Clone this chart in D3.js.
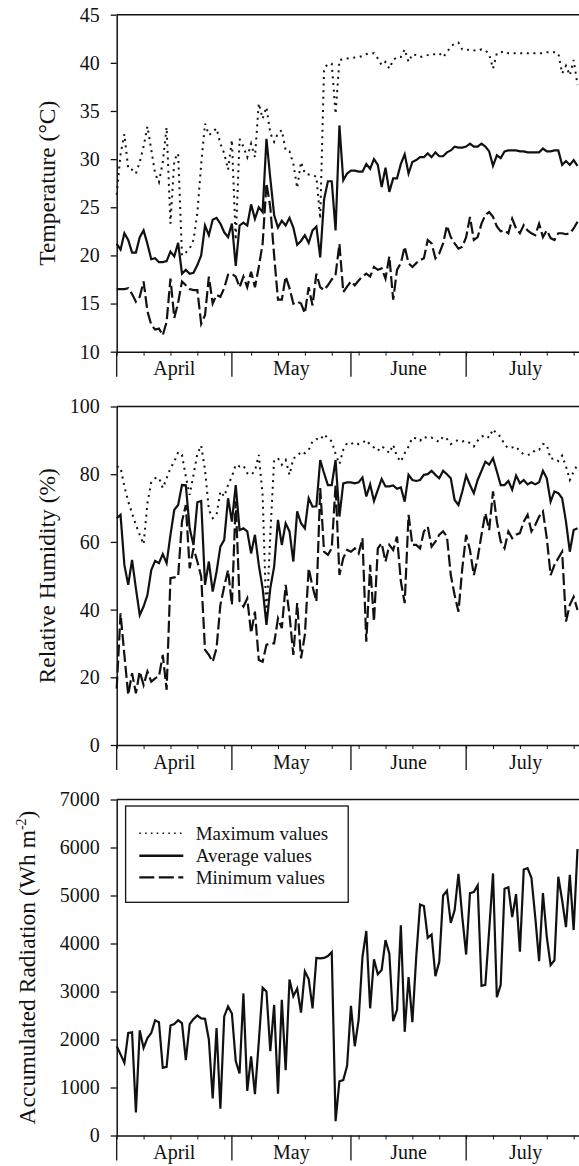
<!DOCTYPE html>
<html>
<head>
<meta charset="utf-8">
<script src="https://cdn.jsdelivr.net/npm/d3@7"></script>
<style>
  body { margin: 0; background: #fff; }
  svg { display: block; }
  text { font-family: "Liberation Serif", "Times New Roman", "DejaVu Serif", serif; fill: #111; }
</style>
</head>
<body>
<svg id="chart" width="579" height="1166"></svg>
<script>
// Daily series from 1 April to 30 July
const tempMax = [26.3,30.5,32.6,29.0,28.9,28.5,29.7,31.3,33.4,31.0,28.5,27.6,29.7,33.3,23.3,29.9,30.6,20.0,20.3,20.7,
  21.6,24.4,29.5,33.7,32.5,32.8,33.2,31.6,30.6,28.9,32.0,21.6,32.1,31.3,30.2,31.6,30.2,35.8,34.2,35.4,
  32.7,31.8,32.7,33.0,30.9,30.8,29.5,27.0,29.7,28.5,28.4,28.3,28.2,23.8,39.4,39.9,39.9,34.7,40.3,40.35,
  40.45,40.5,40.55,40.6,40.7,40.9,41.0,41.0,40.45,39.75,40.1,39.4,40.3,40.6,40.6,41.4,40.1,40.9,40.8,40.6,
  40.7,40.8,40.9,40.9,41.0,40.6,41.1,41.7,42.0,42.1,41.4,41.3,41.4,41.3,41.25,41.4,41.3,40.9,39.4,41.0,
  41.1,41.2,41.0,41.0,41.0,41.0,41.0,41.0,41.0,41.0,41.0,41.0,41.1,41.1,41.1,41.0,38.9,39.7,38.7,40.3,37.7];
const tempAvg = [21.2,20.6,22.3,21.6,20.3,20.3,21.9,22.6,21.2,19.6,19.7,19.3,19.3,19.4,20.4,19.9,21.3,18.1,18.5,18.1,
  18.2,19.0,20.0,23.1,22.1,23.7,23.9,23.3,22.4,21.9,23.3,18.9,23.1,23.4,23.1,25.3,23.8,25.0,24.5,32.1,
  28.0,24.2,22.9,23.6,23.1,23.9,22.9,21.1,21.5,22.1,21.3,22.6,23.0,19.8,25.8,27.7,27.7,22.6,33.5,27.8,
  28.5,28.8,28.8,28.7,28.7,29.5,29.0,30.0,29.4,27.1,29.1,26.6,28.0,28.0,29.5,30.5,28.5,29.7,29.9,30.2,
  30.2,30.6,30.2,30.7,30.3,30.3,30.7,30.9,31.3,31.2,31.2,31.3,31.6,31.3,31.3,31.6,31.3,30.8,29.3,30.4,
  30.1,30.8,30.9,30.9,30.9,30.8,30.8,30.7,30.7,30.7,30.7,31.1,30.8,30.8,30.9,30.9,29.4,29.8,29.4,29.9,29.3];
const tempMin = [16.5,16.5,16.5,16.6,16.0,15.2,15.7,17.3,14.2,12.8,12.3,12.4,11.7,13.1,17.6,13.5,15.1,17.3,16.9,16.5,
  16.4,16.4,12.9,13.8,17.8,15.0,15.9,15.7,16.6,18.0,18.1,17.8,16.7,17.8,16.7,18.3,16.7,18.8,21.2,27.5,
  25.0,20.0,15.4,15.4,17.8,16.6,15.0,15.2,15.0,14.0,16.7,14.8,18.1,16.7,16.4,16.9,17.5,18.0,21.2,16.2,
  16.75,17.3,16.9,17.4,17.8,18.1,17.8,18.8,18.5,18.65,17.6,19.9,15.4,18.5,19.2,20.9,19.2,18.8,19.2,19.5,
  19.7,21.6,21.25,19.7,20.2,21.25,23.1,21.9,21.25,20.7,20.9,21.9,24.0,21.6,21.9,23.3,24.2,24.5,24.0,23.0,
  22.5,22.6,22.3,23.8,22.8,22.3,23.15,22.6,22.3,22.1,23.3,21.9,22.6,21.8,21.6,22.3,22.3,22.2,22.3,22.8,23.5];

const rhMax = [82.3,82.0,76.4,71.9,68.5,65.0,62.1,59.3,71.4,77.6,78.8,79.0,75.9,78.8,81.8,83.7,86.5,85.7,79.3,73.9,
  79.8,86.0,88.5,81.3,69.5,67.0,68.0,74.9,73.4,76.8,79.3,82.8,82.3,82.6,80.3,79.8,81.0,85.7,73.9,37.0,
  62.1,84.2,84.7,82.8,84.2,79.8,84.7,85.2,86.7,86.2,87.2,89.7,90.4,90.1,91.8,90.6,89.7,86.0,83.0,87.2,
  89.2,88.9,89.4,88.9,89.2,90.1,88.7,87.9,86.9,88.2,87.5,86.2,88.7,85.2,83.7,86.2,88.2,90.8,90.6,89.9,
  91.1,90.6,90.8,90.1,89.5,91.1,90.4,88.9,89.7,90.1,89.7,89.9,89.2,88.2,89.9,91.1,91.6,90.8,93.3,91.8,
  91.1,88.7,87.7,87.9,88.2,86.7,85.9,85.7,85.9,87.2,87.2,88.9,88.7,84.5,84.7,83.9,85.5,82.3,78.3,80.8,82.8];
const rhAvg = [67.0,68.0,53.2,47.3,54.7,46.3,38.4,40.9,44.3,51.7,54.4,53.7,56.4,53.7,62.1,69.5,70.9,76.8,76.7,64.0,
  59.1,71.7,72.1,47.3,54.2,45.3,51.2,58.6,60.6,72.9,66.0,76.8,63.5,64.0,63.1,56.6,62.1,53.2,46.3,35.5,
  46.3,52.7,66.5,59.1,65.5,63.1,54.2,69.0,65.5,64.0,72.9,70.4,70.5,84.2,80.3,76.8,76.8,84.2,67.5,77.3,
  77.6,77.6,77.3,77.6,79.0,73.4,77.0,72.1,75.4,78.6,76.4,76.4,76.7,75.7,76.1,71.9,79.8,78.3,78.0,78.3,
  79.8,80.0,81.0,79.8,78.8,81.0,80.0,78.8,72.4,70.9,74.9,79.6,76.8,74.4,78.3,81.0,83.7,82.8,84.7,80.8,
  76.8,76.8,78.0,75.4,79.6,77.3,78.3,77.0,77.6,77.0,77.6,81.0,78.8,71.9,74.9,74.4,72.9,66.0,57.1,63.5,64.0];
const rhMin = [16.7,38.9,26.6,14.8,21.2,15.3,21.7,17.7,21.7,18.7,19.7,20.2,26.6,16.3,49.3,49.5,49.8,66.0,70.9,52.2,
  58.1,54.2,49.8,28.1,26.6,24.6,28.6,41.4,46.8,51.7,41.4,72.0,42.4,40.9,43.3,33.0,39.4,25.1,24.6,29.6,
  30.0,30.0,37.4,34.5,47.3,38.4,26.6,41.9,25.6,32.5,52.2,46.8,42.4,75.9,57.1,56.2,58.1,76.8,50.2,55.2,
  57.6,57.1,58.1,56.6,61.1,30.5,53.2,36.5,58.1,59.6,54.2,59.1,57.6,61.6,48.3,41.9,68.0,59.1,59.1,58.1,
  63.1,64.5,58.6,60.1,62.1,63.1,61.6,50.2,44.3,39.4,52.2,62.1,57.6,50.2,55.2,62.1,68.5,63.5,74.9,66.0,
  60.1,58.1,63.1,61.1,62.1,62.6,66.0,68.0,63.1,65.0,67.5,69.0,61.1,50.2,53.2,55.2,57.1,36.5,41.4,43.8,39.9];

const radiation = [1860,1690,1515,2136,2150,480,2190,1825,2030,2136,2400,2360,1410,1430,2290,2320,2400,2340,1570,2320,
  2425,2500,2440,2430,2000,770,2240,560,2480,2690,2540,1550,1295,2960,930,1650,860,1950,3080,3000,
  1755,2720,870,2825,1360,3250,2900,3060,2560,3420,3260,2650,3700,3690,3700,3740,3820,300,1130,1155,
  1450,2700,1860,2410,3720,4260,2650,3670,3360,3450,4070,3790,2380,2620,4380,2160,3300,2360,3720,4810,
  4780,4120,4190,3320,3620,5000,5100,4430,4690,5450,4550,3770,5050,5070,5210,3120,3140,4280,5460,2880,
  3140,5140,5170,4550,5030,3830,5540,5570,5370,4550,3630,5050,4140,3550,3650,5390,4900,4340,5430,4280,5970];

const monthNames = ["April", "May", "June", "July"];
const tempTicks = [10, 15, 20, 25, 30, 35, 40, 45];
const rhTicks = [0, 20, 40, 60, 80, 100];
const radTicks = [0, 1000, 2000, 3000, 4000, 5000, 6000, 7000];
const legendLabels = ["Maximum values", "Average values", "Minimum values"];

// ---------------------------------------------------------------------
const svg = d3.select("#chart");
const W = 579;
const start = new Date(Date.UTC(2021, 3, 1));
const end = new Date(Date.UTC(2021, 7, 1));
const dates = d3.range(tempAvg.length).map(i => d3.utcDay.offset(start, i));
const plotLeft = 116.7;
const x = d3.scaleUtc().domain([start, end]).range([plotLeft, plotLeft + 122 * 3.84]);

const ink = "#111";
const serif = '"Liberation Serif", "Times New Roman", serif';
const styles = {
  max: { width: 2, dash: "2,4.6" },
  avg: { width: 2.2, dash: null },
  min: { width: 2.2, dash: "12,4" }
};

const panels = [
  { top: 14.7, bottom: 351.7, domain: [10, 45], ticks: tempTicks, titleX: 55,
    title: "Temperature (°C)", series: [["max", tempMax], ["avg", tempAvg], ["min", tempMin]] },
  { top: 406.5, bottom: 745, domain: [0, 100], ticks: rhTicks, titleX: 55,
    title: "Relative Humidity (%)", series: [["max", rhMax], ["avg", rhAvg], ["min", rhMin]] },
  { top: 799.5, bottom: 1135.5, domain: [0, 7000], ticks: radTicks, titleX: 35,
    title: null, series: [["avg", radiation]], legend: true }
];

const weekTicks = d3.range(0, 122, 7).map(i => d3.utcDay.offset(start, i));
const monthStarts = d3.utcMonth.range(start, d3.utcDay.offset(end, 1));

panels.forEach(p => {
  const y = d3.scaleLinear().domain(p.domain).range([p.bottom, p.top]);
  const g = svg.append("g");

  // top frame line
  g.append("line")
    .attr("x1", plotLeft).attr("x2", W + 10)
    .attr("y1", p.top).attr("y2", p.top)
    .attr("stroke", ink).attr("stroke-width", 1.5);

  // y axis
  const yAxis = g.append("g")
    .attr("transform", `translate(${plotLeft},0)`)
    .attr("font-family", serif)
    .call(d3.axisLeft(y).tickValues(p.ticks).tickFormat(d3.format("d"))
      .tickSize(6).tickSizeOuter(0).tickPadding(11));
  yAxis.attr("font-family", serif).attr("font-size", 20);
  yAxis.select(".domain").attr("stroke", ink).attr("stroke-width", 1.5);
  yAxis.selectAll(".tick line").attr("stroke", ink).attr("stroke-width", 1.3);
  yAxis.selectAll(".tick text").attr("font-size", 20).attr("fill", ink);

  // x axis with weekly minor ticks
  const xAxis = g.append("g")
    .attr("transform", `translate(0,${p.bottom})`)
    .call(d3.axisBottom(x).tickValues(weekTicks).tickSize(4).tickSizeOuter(0).tickFormat(""));
  xAxis.select(".domain").attr("stroke", ink).attr("stroke-width", 1.5);
  xAxis.selectAll(".tick line").attr("stroke", ink).attr("stroke-width", 1);

  // month separators and labels
  g.selectAll(".sep").data(monthStarts).join("line")
    .attr("x1", d => x(d)).attr("x2", d => x(d))
    .attr("y1", p.bottom).attr("y2", p.bottom + 25)
    .attr("stroke", ink).attr("stroke-width", 1.3);
  g.selectAll(".mlab").data(monthNames).join("text")
    .attr("x", (d, i) => (x(monthStarts[i]) + x(monthStarts[i + 1])) / 2)
    .attr("y", p.bottom + 23.5)
    .attr("text-anchor", "middle").attr("font-size", 20)
    .text(d => d);

  // axis title
  const cy = (p.top + p.bottom) / 2;
  const t = g.append("text")
    .attr("transform", `translate(${p.titleX},${cy}) rotate(-90)`)
    .attr("text-anchor", "middle").attr("font-size", 23.5);
  if (p.title) {
    t.text(p.title);
  } else {
    t.append("tspan").text("Accumulated Radiation (Wh m");
    t.append("tspan").attr("font-size", 14).attr("dy", -9).text("-2");
    t.append("tspan").attr("dy", 9).text(")");
  }

  // data lines
  p.series.forEach(([kind, values]) => {
    const line = d3.line().x((d, i) => x(dates[i])).y(d => y(d));
    const s = styles[kind];
    g.append("path").datum(values)
      .attr("d", line)
      .attr("fill", "none")
      .attr("stroke", ink)
      .attr("stroke-width", s.width)
      .attr("stroke-linejoin", "miter")
      .attr("stroke-dasharray", s.dash);
  });

  // legend
  if (p.legend) {
    const lg = g.append("g");
    lg.append("rect")
      .attr("x", 125.6).attr("y", 806).attr("width", 222.6).attr("height", 96.3)
      .attr("fill", "#fff").attr("stroke", ink).attr("stroke-width", 1.3);
    const keys = ["max", "avg", "min"];
    const rowY = [833.3, 855.7, 877.3];
    keys.forEach((k, i) => {
      lg.append("line")
        .attr("x1", 139.3).attr("x2", 183.3)
        .attr("y1", rowY[i]).attr("y2", rowY[i])
        .attr("stroke", ink)
        .attr("stroke-width", k === "avg" ? 2.4 : (k === "max" ? 1.6 : 2.2))
        .attr("stroke-dasharray", k === "max" ? "1.6,4.2" : (k === "min" ? "15,4.5" : null));
      lg.append("text")
        .attr("x", 195.7).attr("y", rowY[i] + 6.5)
        .attr("font-size", 19)
        .text(legendLabels[i]);
    });
  }
});
</script>
</body>
</html>
